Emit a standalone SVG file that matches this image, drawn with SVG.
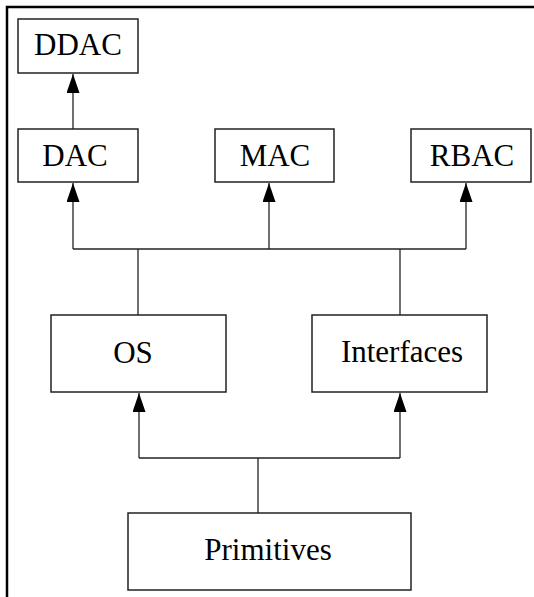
<svg xmlns="http://www.w3.org/2000/svg" width="534" height="597" viewBox="0 0 534 597">
<style>
.box{fill:#fff;stroke:#222;stroke-width:1.5}
.lbl{font-family:"Liberation Serif","Times New Roman",serif;font-size:31px;fill:#000;text-anchor:middle}
.con{fill:none;stroke:#222;stroke-width:1.3}
.frame{fill:none;stroke:#000;stroke-width:2.5}
</style>
<defs>
<marker id="ah" markerUnits="userSpaceOnUse" markerWidth="13" markerHeight="19" viewBox="0 0 13 19" refX="6.5" refY="0" orient="0">
<path d="M6.5,0 L13,19 L0,19 Z" fill="#000"/>
</marker>
</defs>
<rect width="534" height="597" fill="#fff"/>
<path class="frame" d="M7,597 V7 H534"/>
<g id="connectors">
<path class="con" d="M73,129 V74" marker-end="url(#ah)"/>
<path class="con" d="M138,315 V249"/>
<path class="con" d="M400,315 V249"/>
<path class="con" d="M73,249 H466"/>
<path class="con" d="M73,249 V183" marker-end="url(#ah)"/>
<path class="con" d="M269,249 V183" marker-end="url(#ah)"/>
<path class="con" d="M466,249 V183" marker-end="url(#ah)"/>
<path class="con" d="M258,513 V458"/>
<path class="con" d="M139,458 H400"/>
<path class="con" d="M139,458 V393" marker-end="url(#ah)"/>
<path class="con" d="M400,458 V393" marker-end="url(#ah)"/>
</g>
<g id="ddac"><rect class="box" x="18" y="19" width="120" height="54"/><text class="lbl" x="78" y="55">DDAC</text></g>
<g id="dac"><rect class="box" x="18" y="129" width="120" height="53"/><text class="lbl" x="75" y="166">DAC</text></g>
<g id="mac"><rect class="box" x="215" y="129" width="119" height="53"/><text class="lbl" x="275" y="166">MAC</text></g>
<g id="rbac"><rect class="box" x="411" y="129" width="120" height="53"/><text class="lbl" x="472" y="166">RBAC</text></g>
<g id="os"><rect class="box" x="51" y="315" width="175" height="77"/><text class="lbl" x="133" y="363">OS</text></g>
<g id="interfaces"><rect class="box" x="312" y="315" width="175" height="77"/><text class="lbl" x="402" y="362">Interfaces</text></g>
<g id="primitives"><rect class="box" x="128" y="513" width="283" height="77"/><text class="lbl" x="268" y="560">Primitives</text></g>
</svg>
